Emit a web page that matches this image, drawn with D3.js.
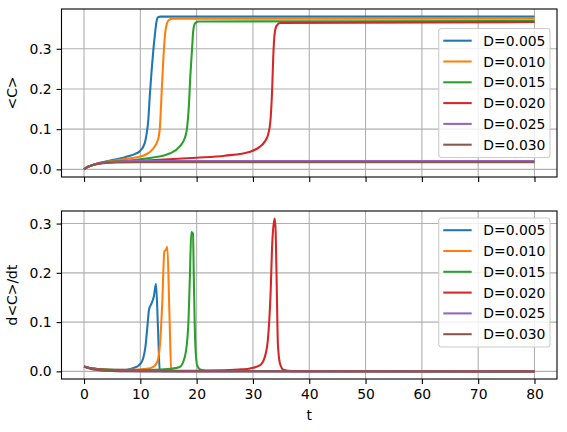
<!DOCTYPE html>
<html>
<head>
<meta charset="utf-8">
<script src="https://cdn.jsdelivr.net/npm/d3@7"></script>
<style>
  body { margin: 0; background: #fff; }
  text { font-family: "DejaVu Sans", sans-serif; fill: #000; }
</style>
</head>
<body>
<div id="chart"></div>
<script>
// legend labels and colours
var labels = ["D=0.005", "D=0.010", "D=0.015", "D=0.020", "D=0.025", "D=0.030"];
var colors = ["#1f77b4", "#ff7f0e", "#2ca02c", "#d62728", "#9467bd", "#8c564b"];
var xTicks = [0, 10, 20, 30, 40, 50, 60, 70, 80];
var yTicks = [0.0, 0.1, 0.2, 0.3];

// <C> vs t
var tC005 = [0, 0.5, 1, 2, 3, 4, 5, 6, 7, 8, 9, 9.9, 10.8, 11.1, 11.4, 11.7, 12.0, 12.3, 12.6, 12.9, 13.2, 13.6, 15, 80];
var vC005 = [0, 0.005, 0.008, 0.013, 0.017, 0.020, 0.023, 0.026, 0.029, 0.033, 0.038, 0.045, 0.066, 0.087, 0.120, 0.187, 0.245, 0.295, 0.337, 0.370, 0.379, 0.380, 0.380, 0.380];
var tC010 = [0, 0.5, 1, 2, 3, 4, 5, 6, 8, 10, 11, 12.3, 13.2, 13.5, 13.8, 14.1, 14.4, 14.7, 15.1, 15.8, 80];
var vC010 = [0, 0.005, 0.008, 0.013, 0.016, 0.019, 0.021, 0.023, 0.027, 0.032, 0.037, 0.052, 0.077, 0.110, 0.195, 0.278, 0.337, 0.362, 0.372, 0.375, 0.375];
var tC015 = [0, 0.5, 1, 2, 3, 4, 6, 8, 10, 12, 14, 15.3, 17.0, 17.9, 18.3, 18.6, 18.9, 19.2, 19.4, 19.7, 20.3, 80];
var vC015 = [0, 0.005, 0.008, 0.013, 0.016, 0.018, 0.020, 0.022, 0.025, 0.029, 0.034, 0.040, 0.057, 0.078, 0.103, 0.153, 0.237, 0.303, 0.345, 0.363, 0.368, 0.369];
var tC020 = [0, 0.5, 1, 2, 3, 4, 6, 10, 15, 20, 25, 29.5, 31.2, 32.1, 32.7, 33.1, 33.4, 33.6, 33.85, 34.2, 34.8, 80];
var vC020 = [0, 0.005, 0.008, 0.0125, 0.0155, 0.0175, 0.019, 0.0215, 0.025, 0.029, 0.034, 0.044, 0.056, 0.069, 0.087, 0.120, 0.195, 0.278, 0.337, 0.357, 0.364, 0.3665];
var tC025 = [0, 0.5, 1, 2, 3, 4, 6, 8, 12, 80];
var vC025 = [0, 0.005, 0.008, 0.0125, 0.015, 0.017, 0.019, 0.0205, 0.021, 0.021];
var tC030 = [0, 0.5, 1, 2, 3, 4, 6, 10, 80];
var vC030 = [0, 0.005, 0.008, 0.012, 0.0145, 0.016, 0.017, 0.0175, 0.0175];

// d<C>/dt vs t
var tD005 = [0, 1, 2, 3, 5, 7, 8.2, 9.3, 9.9, 10.5, 10.9, 11.3, 11.54, 12.0, 12.4, 12.78, 13.13, 13.45, 14, 80];
var vD005 = [0.010, 0.007, 0.005, 0.004, 0.003, 0.003, 0.005, 0.009, 0.014, 0.026, 0.049, 0.097, 0.125, 0.138, 0.152, 0.178, 0.090, 0.002, 0.0005, 0];
var tD010 = [0, 1, 2, 3, 5, 8, 11.1, 12.3, 13.0, 13.5, 13.9, 14.26, 14.55, 14.8, 15.15, 15.5, 16, 80];
var vD010 = [0.010, 0.007, 0.005, 0.004, 0.003, 0.003, 0.005, 0.009, 0.019, 0.056, 0.140, 0.243, 0.247, 0.253, 0.124, 0.003, 0.0005, 0];
var tD015 = [0, 1, 2, 3, 5, 8, 12, 15.3, 17.0, 17.9, 18.5, 18.8, 19.05, 19.35, 19.5, 19.76, 20.1, 20.6, 22, 80];
var vD015 = [0.010, 0.007, 0.005, 0.004, 0.003, 0.002, 0.003, 0.005, 0.009, 0.029, 0.090, 0.192, 0.283, 0.280, 0.190, 0.056, 0.012, 0.004, 0.001, 0];
var tD020 = [0, 1, 2, 3, 5, 8, 12, 20, 25, 28, 29.5, 31.2, 32.1, 32.7, 33.13, 33.43, 33.84, 34.0, 34.2, 34.43, 34.8, 35.4, 37, 80];
var vD020 = [0.010, 0.007, 0.005, 0.0035, 0.002, 0.0015, 0.001, 0.001, 0.002, 0.004, 0.006, 0.012, 0.029, 0.070, 0.158, 0.260, 0.310, 0.293, 0.190, 0.056, 0.016, 0.0035, 0.0005, 0];
var tD025 = [0, 1, 2, 3, 5, 8, 12, 80];
var vD025 = [0.010, 0.0065, 0.004, 0.0025, 0.001, 0.0003, 0, 0];
var tD030 = [0, 1, 2, 3, 5, 8, 80];
var vD030 = [0.010, 0.006, 0.0035, 0.002, 0.0007, 0.0001, 0];

var topT = [tC005, tC010, tC015, tC020, tC025, tC030];
var topV = [vC005, vC010, vC015, vC020, vC025, vC030];
var botT = [tD005, tD010, tD015, tD020, tD025, tD030];
var botV = [vD005, vD010, vD015, vD020, vD025, vD030];

// figure dimensions
var width = 567;
var height = 432;
var left = 61.5, right = 557;
var fs = 13.9;   // 10pt at 100 dpi
var lineW = 2.08; // 1.5pt
var thin = 1.1;   // 0.8pt

var svg = d3.select('#chart')
  .append('svg')
  .attr('width', width)
  .attr('height', height);

svg.append('rect').attr('width', width).attr('height', height).attr('fill', '#fff');

var x = d3.scaleLinear().domain([-4, 84]).range([left, right]);

function series(ts, vs) {
  return ts.map(function(t, j) { return [t, vs[j]]; });
}

// matplotlib style 5% margins on y
function yDomain(vals) {
  var lo = d3.min(vals, function(v) { return d3.min(v); });
  var hi = d3.max(vals, function(v) { return d3.max(v); });
  var pad = (hi - lo) * 0.05;
  return [lo - pad, hi + pad];
}

function panel(top, bottom, ts, vs, yLabel, showXLabels, legendTop) {
  var y = d3.scaleLinear().domain(yDomain(vs)).range([bottom, top]);
  var g = svg.append('g');

  // grid
  g.selectAll('.gx').data(xTicks).enter().append('line')
    .attr('x1', function(d) { return x(d); }).attr('x2', function(d) { return x(d); })
    .attr('y1', top).attr('y2', bottom)
    .attr('stroke', '#b0b0b0').attr('stroke-width', thin);
  g.selectAll('.gy').data(yTicks).enter().append('line')
    .attr('y1', function(d) { return y(d); }).attr('y2', function(d) { return y(d); })
    .attr('x1', left).attr('x2', right)
    .attr('stroke', '#b0b0b0').attr('stroke-width', thin);

  // lines
  var line = d3.line()
    .x(function(d) { return x(d[0]); })
    .y(function(d) { return y(d[1]); })
    .curve(d3.curveMonotoneX);

  g.append('clipPath').attr('id', 'clip' + top)
    .append('rect').attr('x', left).attr('y', top).attr('width', right - left).attr('height', bottom - top);

  ts.forEach(function(t, i) {
    g.append('path')
      .attr('d', line(series(t, vs[i])))
      .attr('fill', 'none')
      .attr('stroke', colors[i])
      .attr('stroke-width', lineW)
      .attr('stroke-linejoin', 'round')
      .attr('clip-path', 'url(#clip' + top + ')');
  });

  // axes
  var xAxis = d3.axisBottom(x).tickValues(xTicks).tickSize(4.9).tickPadding(4.9)
    .tickFormat(showXLabels ? d3.format('d') : '');
  var yAxis = d3.axisLeft(y).tickValues(yTicks).tickSize(4.9).tickPadding(4.9)
    .tickFormat(d3.format('.1f'));

  var ax = g.append('g').attr('transform', 'translate(0,' + bottom + ')').call(xAxis);
  var ay = g.append('g').attr('transform', 'translate(' + left + ',0)').call(yAxis);
  [ax, ay].forEach(function(a) {
    a.select('.domain').remove();
    a.selectAll('.tick line').attr('stroke', '#000').attr('stroke-width', thin);
    a.selectAll('.tick text').attr('font-size', fs).attr('font-family', 'DejaVu Sans').attr('fill', '#000');
  });

  g.append('rect')
    .attr('x', left).attr('y', top)
    .attr('width', right - left).attr('height', bottom - top)
    .attr('fill', 'none').attr('stroke', '#000').attr('stroke-width', thin);

  g.append('text')
    .attr('transform', 'translate(' + 17 + ',' + ((top + bottom) / 2) + ') rotate(-90)')
    .attr('text-anchor', 'middle')
    .attr('font-size', fs)
    .text(yLabel);

  // legend
  var lx = 438.7, lw = 111.3, lh = 129, rowH = 20.8;
  var lg = g.append('g').attr('transform', 'translate(' + lx + ',' + legendTop + ')');
  lg.append('rect')
    .attr('width', lw).attr('height', lh).attr('rx', 2.8)
    .attr('fill', '#fff').attr('fill-opacity', 0.8)
    .attr('stroke', '#cccccc').attr('stroke-width', thin);
  var item = lg.selectAll('.legend').data(labels).enter().append('g')
    .attr('class', 'legend')
    .attr('transform', function(d, i) { return 'translate(0,' + (12.2 + i * rowH) + ')'; });
  item.append('line')
    .attr('x1', 4.6).attr('x2', 33)
    .attr('stroke', function(d, i) { return colors[i]; })
    .attr('stroke-width', lineW);
  item.append('text')
    .attr('x', 44.6).attr('dy', '0.36em')
    .attr('font-size', fs)
    .text(function(d) { return d; });
}

panel(9, 177, topT, topV, '<C>', false, 28.5);
panel(211, 379, botT, botV, 'd<C>/dt', true, 218);

svg.append('text')
  .attr('x', (left + right) / 2).attr('y', 420)
  .attr('text-anchor', 'middle')
  .attr('font-size', fs)
  .text('t');
</script>
</body>
</html>
